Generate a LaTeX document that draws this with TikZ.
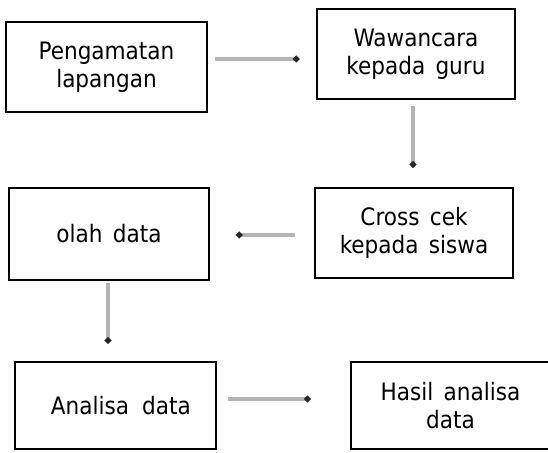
\documentclass[tikz,border=0pt]{standalone}
\usepackage{fontspec}
\setmainfont[WordSpace=1.5]{DejaVu Sans Condensed}
\usetikzlibrary{arrows.meta}
\definecolor{garis}{RGB}{180,180,180}
\tikzset{every picture/.style={line width=0.75pt}}
\tikzset{
  kotak/.style={draw=black, line width=1.8pt, align=center, inner sep=0pt, font=\fontsize{18}{21}\selectfont},
  alur/.style={draw=garis, line width=2.4pt, -{Circle[length=4.5pt,color=black!85]}}
}
\begin{document}
\begin{tikzpicture}[x=0.75pt,y=0.75pt,yscale=-1,xscale=1]
\useasboundingbox (0,0) rectangle (548,452);

\node[kotak, minimum width=150.75pt, minimum height=67.5pt] (p1) at (106.5,67) {Pengamatan\\lapangan};
\node[kotak, minimum width=148.5pt, minimum height=67.5pt] (p2) at (416,54) {Wawancara\\kepada guru};
\node[kotak, minimum width=148.5pt, minimum height=67.5pt] (p3) at (414,233) {Cross cek\\kepada siswa};
\node[kotak, minimum width=150pt, minimum height=69pt] (p4) at (109,234) {olah data};
\node[kotak, minimum width=150.75pt, minimum height=65.25pt] (p5) at (115.5,405.5) {\hspace{8pt}Analisa\hspace{0.55em}data};
\node[kotak, minimum width=149.25pt, minimum height=65.25pt] (p6) at (450.5,405.5) {Hasil analisa\\data};

\draw[alur, shorten <=5pt, shorten >=12.5pt] (p1.east |- 0,59) -- (p2.west |- 0,59);
\draw[alur, shorten <=4.5pt, shorten >=14.5pt] (p2.south -| 413,0) -- (p3.north -| 413,0);
\draw[alur, shorten <=14pt, shorten >=19.5pt] (p3.west |- 0,235) -- (p4.east |- 0,235);
\draw[alur, shorten <=1.5pt, shorten >=13pt] (p4.south -| 108,0) -- (p5.north -| 108,0);
\draw[alur, shorten <=8pt, shorten >=29.5pt] (p5.east |- 0,399) -- (p6.west |- 0,399);

\end{tikzpicture}
\end{document}
